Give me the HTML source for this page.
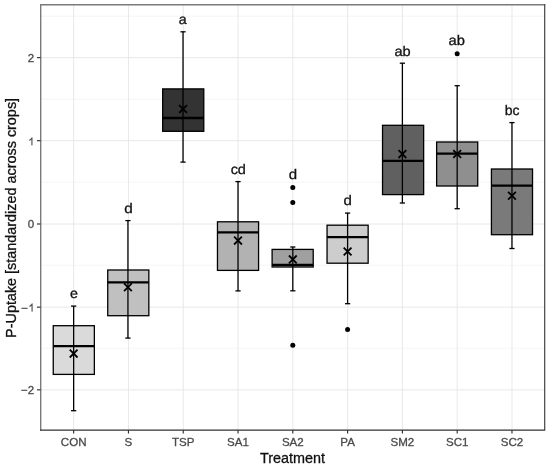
<!DOCTYPE html>
<html><head><meta charset="utf-8"><title>P-Uptake boxplot</title>
<style>
html,body{margin:0;padding:0;background:#fff;}
body{width:550px;height:468px;overflow:hidden;}
svg{display:block;will-change:transform;font-family:"Liberation Sans",sans-serif;}
</style></head><body>
<svg width="550" height="468" viewBox="0 0 550 468">
<rect x="0" y="0" width="550" height="468" fill="#ffffff"/>

<g stroke="#ebebeb" stroke-width="0.5" fill="none">
<line x1="40.55" x2="544.7" y1="348.20" y2="348.20"/>
<line x1="40.55" x2="544.7" y1="265.20" y2="265.20"/>
<line x1="40.55" x2="544.7" y1="182.20" y2="182.20"/>
<line x1="40.55" x2="544.7" y1="99.20" y2="99.20"/>
<line x1="40.55" x2="544.7" y1="16.20" y2="16.20"/>
</g>
<g stroke="#e8e8e8" stroke-width="1" fill="none">
<line x1="40.55" x2="544.7" y1="389.85" y2="389.85"/>
<line x1="40.55" x2="544.7" y1="307.15" y2="307.15"/>
<line x1="40.55" x2="544.7" y1="224.00" y2="224.00"/>
<line x1="40.55" x2="544.7" y1="140.70" y2="140.70"/>
<line x1="40.55" x2="544.7" y1="57.65" y2="57.65"/>
<line x1="73.65" x2="73.65" y1="4.75" y2="430.2"/>
<line x1="128.44" x2="128.44" y1="4.75" y2="430.2"/>
<line x1="183.23" x2="183.23" y1="4.75" y2="430.2"/>
<line x1="238.02" x2="238.02" y1="4.75" y2="430.2"/>
<line x1="292.81" x2="292.81" y1="4.75" y2="430.2"/>
<line x1="347.60" x2="347.60" y1="4.75" y2="430.2"/>
<line x1="402.39" x2="402.39" y1="4.75" y2="430.2"/>
<line x1="457.18" x2="457.18" y1="4.75" y2="430.2"/>
<line x1="511.97" x2="511.97" y1="4.75" y2="430.2"/>
</g>
<g stroke="#000" stroke-width="1.3" fill="none">
<line x1="71.05" x2="76.25" y1="306.1" y2="306.1"/>
<line x1="71.05" x2="76.25" y1="410.7" y2="410.7"/>
<rect x="53.25" y="325.7" width="41.1" height="48.70" fill="#dadada"/>
<line x1="73.65" x2="73.65" y1="306.1" y2="410.7"/>
<line x1="53.25" x2="94.35" y1="346.1" y2="346.1" stroke-width="2.3"/>
<path d="M69.75 349.70L77.55 357.50M69.75 357.50L77.55 349.70" stroke-width="1.8"/>
</g>
<text transform="translate(73.90,297.60) scale(1.025,1)" font-size="13.9" text-rendering="geometricPrecision" text-anchor="middle" fill="#111" stroke="#111" stroke-width="0.3">e</text>
<g stroke="#000" stroke-width="1.3" fill="none">
<line x1="125.34" x2="130.54" y1="220.6" y2="220.6"/>
<line x1="125.34" x2="130.54" y1="338.1" y2="338.1"/>
<rect x="107.74" y="270.0" width="41.1" height="45.70" fill="#c0c0c0"/>
<line x1="127.94" x2="127.94" y1="220.6" y2="338.1"/>
<line x1="107.74" x2="148.84" y1="282.3" y2="282.3" stroke-width="2.3"/>
<path d="M124.04 283.30L131.84 291.10M124.04 291.10L131.84 283.30" stroke-width="1.8"/>
</g>
<text transform="translate(128.39,212.60) scale(1.1,1)" font-size="13.9" text-rendering="geometricPrecision" text-anchor="middle" fill="#111" stroke="#111" stroke-width="0.3">d</text>
<g stroke="#000" stroke-width="1.3" fill="none">
<line x1="180.43" x2="185.63" y1="31.8" y2="31.8"/>
<line x1="180.43" x2="185.63" y1="162.1" y2="162.1"/>
<rect x="162.68" y="88.9" width="41.1" height="42.40" fill="#333333"/>
<line x1="183.03" x2="183.03" y1="31.8" y2="162.1"/>
<line x1="162.68" x2="203.78" y1="118.0" y2="118.0" stroke-width="2.3"/>
<path d="M179.13 105.10L186.93 112.90M179.13 112.90L186.93 105.10" stroke-width="1.8"/>
</g>
<text transform="translate(182.68,24.10) scale(1.025,1)" font-size="13.9" text-rendering="geometricPrecision" text-anchor="middle" fill="#111" stroke="#111" stroke-width="0.3">a</text>
<g stroke="#000" stroke-width="1.3" fill="none">
<line x1="235.42" x2="240.62" y1="181.6" y2="181.6"/>
<line x1="235.42" x2="240.62" y1="290.9" y2="290.9"/>
<rect x="217.47" y="221.8" width="41.1" height="48.60" fill="#b2b2b2"/>
<line x1="238.02" x2="238.02" y1="181.6" y2="290.9"/>
<line x1="217.47" x2="258.57" y1="232.3" y2="232.3" stroke-width="2.3"/>
<path d="M234.12 236.70L241.92 244.50M234.12 244.50L241.92 236.70" stroke-width="1.8"/>
</g>
<text transform="translate(238.27,173.60) scale(1.04,1)" font-size="13.9" text-rendering="geometricPrecision" text-anchor="middle" fill="#111" stroke="#111" stroke-width="0.3">cd</text>
<g stroke="#000" stroke-width="1.3" fill="none">
<line x1="290.21" x2="295.41" y1="247.0" y2="247.0"/>
<line x1="290.21" x2="295.41" y1="290.8" y2="290.8"/>
<rect x="272.11" y="249.4" width="41.1" height="17.60" fill="#a0a0a0"/>
<line x1="292.81" x2="292.81" y1="247.0" y2="290.8"/>
<line x1="272.11" x2="313.21" y1="264.9" y2="264.9" stroke-width="2.3"/>
<path d="M288.91 255.50L296.71 263.30M288.91 263.30L296.71 255.50" stroke-width="1.8"/>
</g>
<circle cx="292.81" cy="187.5" r="2.5" fill="#000"/>
<circle cx="292.81" cy="202.6" r="2.5" fill="#000"/>
<circle cx="292.81" cy="345.3" r="2.5" fill="#000"/>
<text transform="translate(292.86,178.80) scale(1.08,1)" font-size="13.9" text-rendering="geometricPrecision" text-anchor="middle" fill="#111" stroke="#111" stroke-width="0.3">d</text>
<g stroke="#000" stroke-width="1.3" fill="none">
<line x1="345.00" x2="350.20" y1="213.1" y2="213.1"/>
<line x1="345.00" x2="350.20" y1="303.7" y2="303.7"/>
<rect x="327.05" y="225.2" width="41.1" height="38.00" fill="#cdcdcd"/>
<line x1="347.60" x2="347.60" y1="213.1" y2="303.7"/>
<line x1="327.05" x2="368.15" y1="237.1" y2="237.1" stroke-width="2.3"/>
<path d="M343.70 247.60L351.50 255.40M343.70 255.40L351.50 247.60" stroke-width="1.8"/>
</g>
<circle cx="347.60" cy="329.6" r="2.5" fill="#000"/>
<text transform="translate(347.65,204.90) scale(1.08,1)" font-size="13.9" text-rendering="geometricPrecision" text-anchor="middle" fill="#111" stroke="#111" stroke-width="0.3">d</text>
<g stroke="#000" stroke-width="1.3" fill="none">
<line x1="399.79" x2="404.99" y1="63.2" y2="63.2"/>
<line x1="399.79" x2="404.99" y1="203.0" y2="203.0"/>
<rect x="382.54" y="125.3" width="41.1" height="69.30" fill="#606060"/>
<line x1="402.39" x2="402.39" y1="63.2" y2="203.0"/>
<line x1="382.54" x2="423.64" y1="160.9" y2="160.9" stroke-width="2.3"/>
<path d="M398.49 150.20L406.29 158.00M398.49 158.00L406.29 150.20" stroke-width="1.8"/>
</g>
<text transform="translate(402.49,55.60) scale(1.05,1)" font-size="13.9" text-rendering="geometricPrecision" text-anchor="middle" fill="#111" stroke="#111" stroke-width="0.3">ab</text>
<g stroke="#000" stroke-width="1.3" fill="none">
<line x1="454.58" x2="459.78" y1="85.7" y2="85.7"/>
<line x1="454.58" x2="459.78" y1="208.7" y2="208.7"/>
<rect x="436.63" y="142.0" width="41.1" height="44.00" fill="#8f8f8f"/>
<line x1="457.18" x2="457.18" y1="85.7" y2="208.7"/>
<line x1="436.63" x2="477.73" y1="153.7" y2="153.7" stroke-width="2.3"/>
<path d="M453.28 150.10L461.08 157.90M453.28 157.90L461.08 150.10" stroke-width="1.8"/>
</g>
<circle cx="457.18" cy="53.7" r="2.5" fill="#000"/>
<text transform="translate(456.73,45.20) scale(1.06,1)" font-size="13.9" text-rendering="geometricPrecision" text-anchor="middle" fill="#111" stroke="#111" stroke-width="0.3">ab</text>
<g stroke="#000" stroke-width="1.3" fill="none">
<line x1="509.37" x2="514.57" y1="122.6" y2="122.6"/>
<line x1="509.37" x2="514.57" y1="248.5" y2="248.5"/>
<rect x="491.42" y="169.0" width="41.1" height="65.70" fill="#7a7a7a"/>
<line x1="511.97" x2="511.97" y1="122.6" y2="248.5"/>
<line x1="491.42" x2="532.52" y1="185.6" y2="185.6" stroke-width="2.3"/>
<path d="M508.07 191.80L515.87 199.60M508.07 199.60L515.87 191.80" stroke-width="1.8"/>
</g>
<text transform="translate(512.07,114.60) scale(1.01,1)" font-size="13.9" text-rendering="geometricPrecision" text-anchor="middle" fill="#111" stroke="#111" stroke-width="0.3">bc</text>
<path d="M40.7 430.7V4.8H545.2" fill="none" stroke="#7a7a7a" stroke-width="1.4" stroke-linejoin="miter"/>
<path d="M40.1 430.15H544.72V4.2" fill="none" stroke="#333" stroke-width="1.1" stroke-linejoin="miter"/>
<g stroke="#262626" stroke-width="1.1" fill="none">
<line x1="36.949999999999996" x2="40.55" y1="389.85" y2="389.85"/>
<line x1="36.949999999999996" x2="40.55" y1="307.15" y2="307.15"/>
<line x1="36.949999999999996" x2="40.55" y1="224.00" y2="224.00"/>
<line x1="36.949999999999996" x2="40.55" y1="140.70" y2="140.70"/>
<line x1="36.949999999999996" x2="40.55" y1="57.65" y2="57.65"/>
<line x1="73.65" x2="73.65" y1="430.2" y2="433.59999999999997"/>
<line x1="128.44" x2="128.44" y1="430.2" y2="433.59999999999997"/>
<line x1="183.23" x2="183.23" y1="430.2" y2="433.59999999999997"/>
<line x1="238.02" x2="238.02" y1="430.2" y2="433.59999999999997"/>
<line x1="292.81" x2="292.81" y1="430.2" y2="433.59999999999997"/>
<line x1="347.60" x2="347.60" y1="430.2" y2="433.59999999999997"/>
<line x1="402.39" x2="402.39" y1="430.2" y2="433.59999999999997"/>
<line x1="457.18" x2="457.18" y1="430.2" y2="433.59999999999997"/>
<line x1="511.97" x2="511.97" y1="430.2" y2="433.59999999999997"/>
</g>
<g font-size="11.55" fill="#4a4a4a" stroke="#4a4a4a" stroke-width="0.3">
<text x="34.2" y="393.9" text-anchor="end">−2</text>
<text x="27.95" y="311.6" text-anchor="end">−</text>
<path d="M31.60 311.45V305.65Q30.60 306.55 29.40 306.85V305.95Q31.20 305.05 31.90 303.55H32.55V311.45Z" stroke-width="0.15"/>
<text x="34.2" y="228.4" text-anchor="end">0</text>
<path d="M31.45 145.35V139.55Q30.45 140.45 29.25 140.75V139.85Q31.05 138.95 31.75 137.45H32.40V145.35Z" stroke-width="0.15"/>
<text x="34.2" y="61.95" text-anchor="end">2</text>
<text x="73.65" y="445.8" text-anchor="middle">CON</text>
<text x="128.44" y="445.8" text-anchor="middle">S</text>
<text x="183.23" y="445.8" text-anchor="middle">TSP</text>
<text x="238.02" y="445.8" text-anchor="middle">SA1</text>
<text x="292.81" y="445.8" text-anchor="middle">SA2</text>
<text x="347.60" y="445.8" text-anchor="middle">PA</text>
<text x="402.39" y="445.8" text-anchor="middle">SM2</text>
<text x="457.18" y="445.8" text-anchor="middle">SC1</text>
<text x="511.97" y="445.8" text-anchor="middle">SC2</text>
</g>
<text x="292.5" y="462.6" font-size="14.4" text-anchor="middle" fill="#111" stroke="#111" stroke-width="0.3">Treatment</text>
<text transform="translate(15.8,217.9) rotate(-90)" font-size="14.4" text-anchor="middle" fill="#111" stroke="#111" stroke-width="0.3">P-Uptake [standardized across crops]</text>
</svg>
</body></html>
